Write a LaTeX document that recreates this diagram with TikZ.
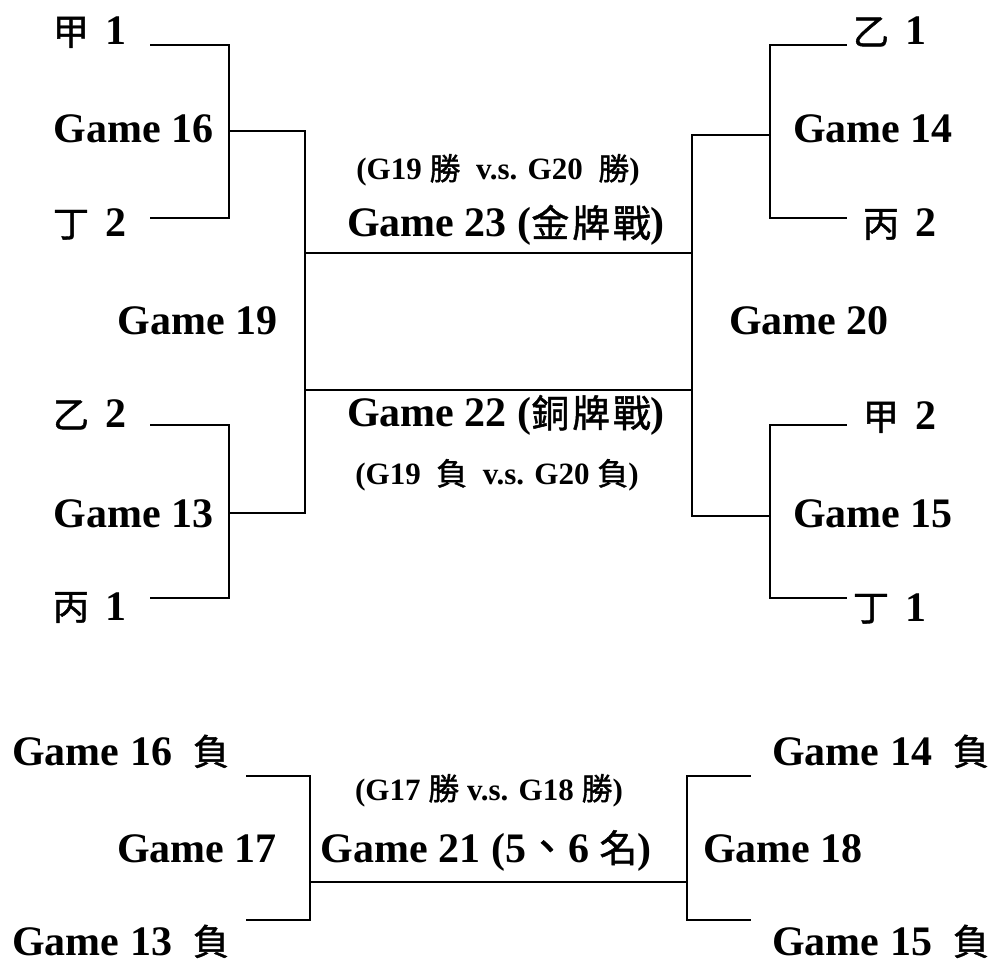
\documentclass[tikz,border=0pt]{standalone}
\usepackage{fontspec}
\setmainfont{Liberation Serif}
\newfontfamily\cjk{Noto Sans CJK TC}[FakeBold=1.2]
\newfontfamily\cjkm{Noto Sans CJK TC}[Scale=0.9,FakeBold=1.2,LetterSpace=8]
\newfontfamily\cjks{Noto Sans CJK TC}[Scale=0.86,FakeBold=1.2]
\newcommand\zh[1]{{\cjk\mdseries #1}}
\newcommand\zhm[1]{{\cjkm\mdseries #1}}
\newcommand\zhs[1]{{\cjks\mdseries #1}}
\begin{document}
\begin{tikzpicture}[x=1pt,y=-1pt,
  big/.style={font=\fontsize{42}{48}\selectfont\bfseries, inner sep=0pt, anchor=base},
  bigw/.style={big, anchor=base west},
  bige/.style={big, anchor=base east},
  small/.style={font=\fontsize{31}{36}\selectfont\bfseries, inner sep=0pt, anchor=base},
  ln/.style={line width=1.8pt, line cap=rect}]
\useasboundingbox (0,0) rectangle (991,965);
% ---------- text, upper bracket ----------
\node[bige] (a1) at (127,45) {\zhs{甲}\hspace{0.4em}1};
\node[big] (g16) at (133.5,143) {Game 16};
\node[bige] (d2) at (127,237) {\zhs{丁}\hspace{0.4em}2};
\node[big] (g19) at (197.5,335) {Game 19};
\node[bige] (b2) at (127,428) {\zhs{乙}\hspace{0.4em}2};
\node[big] (g13) at (133.5,527) {Game 13};
\node[bige] (c1) at (127,620) {\zhs{丙}\hspace{0.4em}1};
\node[bige] (b1) at (927,45) {\zhs{乙}\hspace{0.4em}1};
\node[big] (g14) at (873,143) {Game 14};
\node[bige] (c2) at (937,237) {\zhs{丙}\hspace{0.4em}2};
\node[big] (g20) at (809,335) {Game 20};
\node[bige] (a2) at (937,430) {\zhs{甲}\hspace{0.4em}2};
\node[big] (g15) at (873,527) {Game 15};
\node[bige] (d1) at (927,621) {\zhs{丁}\hspace{0.4em}1};
\node[small] (w23) at (498,180) {(G19 \zh{勝}\ \ v.s. G20\ \ \zh{勝})};
\node[big] (g23) at (506,237) {Game 23 (\zhm{金牌戰})};
\node[big] (g22) at (506,427) {Game 22 (\zhm{銅牌戰})};
\node[small] (l22) at (497,485) {(G19\ \ \zh{負}\ \ v.s. G20 \zh{負})};
% ---------- text, lower bracket ----------
\node[bigw] (g16l) at (12,765) {Game 16\ \ \zhs{負}};
\node[big] (g17) at (197,862) {Game 17};
\node[bigw] (g13l) at (12,955) {Game 13\ \ \zhs{負}};
\node[small] (w21) at (489,800) {(G17 \zh{勝}\ v.s. G18 \zh{勝})};
\node[big] (g21) at (486,862) {Game 21 (5\zh{、}6 \zhm{名})};
\node[big] (g18) at (783,862) {Game 18};
\node[bigw] (g14l) at (772,765) {Game 14\ \ \zhs{負}};
\node[bigw] (g15l) at (772,955) {Game 15\ \ \zhs{負}};
% ---------- bracket points ----------
\coordinate (pa1) at (151,45);
\coordinate (pd2) at (151,218);
\coordinate (p16) at (229,131);
\coordinate (pb2) at (151,425);
\coordinate (pc1) at (151,598);
\coordinate (p13) at (229,513);
\coordinate (p19t) at (305,253);
\coordinate (p19b) at (305,390);
\coordinate (pb1) at (846,45);
\coordinate (pc2) at (846,218);
\coordinate (p14) at (770,135);
\coordinate (pa2) at (846,425);
\coordinate (pd1) at (846,598);
\coordinate (p15) at (770,516);
\coordinate (p20t) at (692,253);
\coordinate (p20b) at (692,390);
% lower
\coordinate (q16) at (247,776);
\coordinate (q13) at (247,920);
\coordinate (q17) at (310,882);
\coordinate (q14) at (750,776);
\coordinate (q15) at (750,920);
\coordinate (q18) at (687,882);
% ---------- connectors ----------
\draw[ln] (pa1) -| (p16) |- (pd2);
\draw[ln] (pb2) -| (p13) |- (pc1);
\draw[ln] (p16) -| (p19t) -- (p19b) |- (p13);
\draw[ln] (pb1) -| (p14) |- (pc2);
\draw[ln] (pa2) -| (p15) |- (pd1);
\draw[ln] (p14) -| (p20t) -- (p20b) |- (p15);
\draw[ln] (p19t) -- (p20t);
\draw[ln] (p19b) -- (p20b);
\draw[ln] (q16) -| (q17) |- (q13);
\draw[ln] (q14) -| (q18) |- (q15);
\draw[ln] (q17) -- (q18);
\end{tikzpicture}
\end{document}
